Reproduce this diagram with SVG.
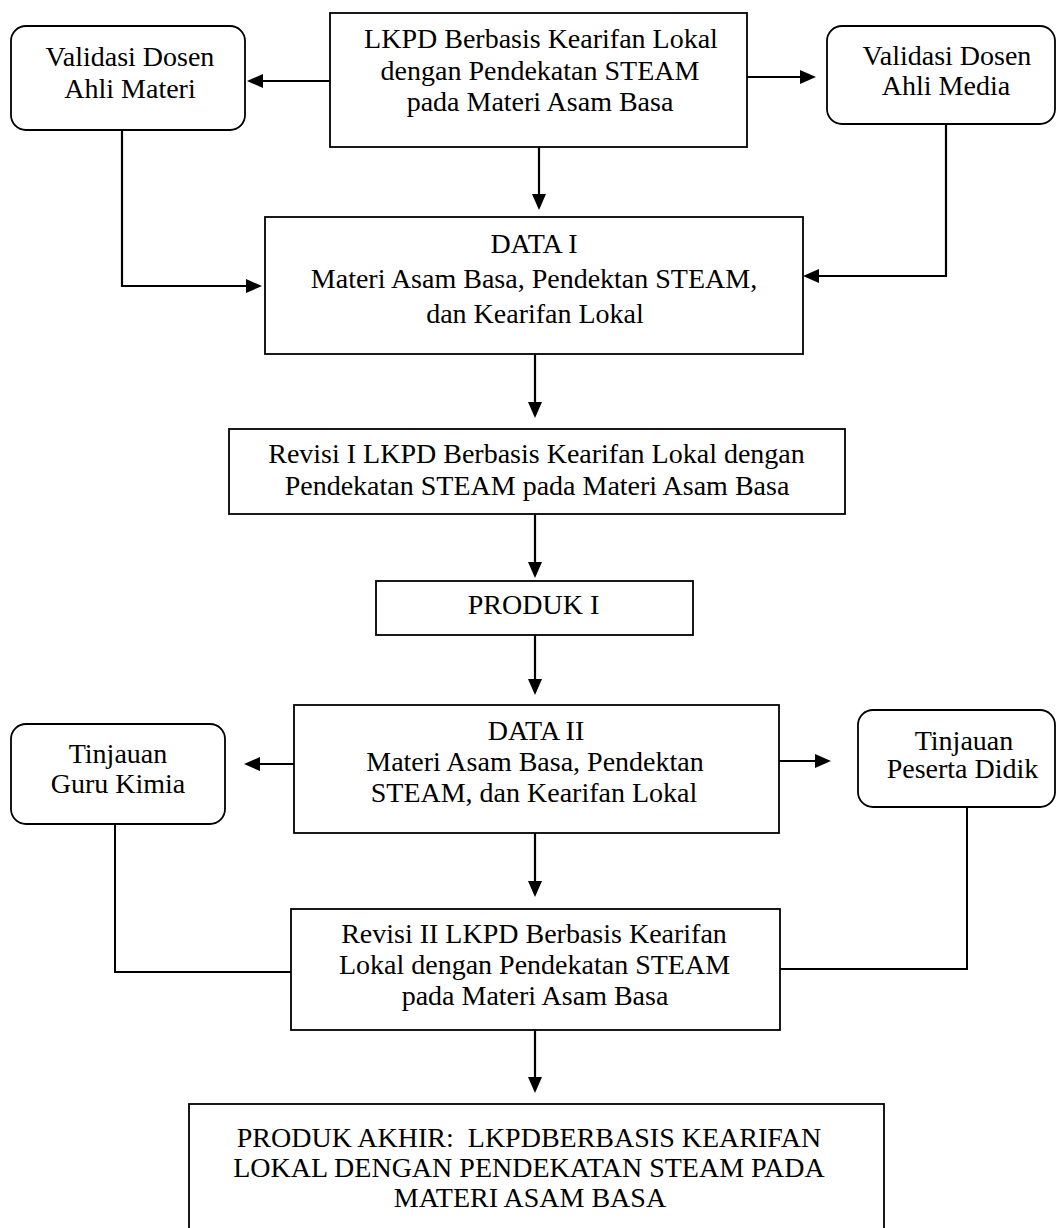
<svg xmlns="http://www.w3.org/2000/svg" width="1057" height="1228" viewBox="0 0 1057 1228">
<style>
  .box { fill: #ffffff; stroke: #000000; stroke-width: 1.8; }
  .t { font-family: "Liberation Serif", "Times New Roman", serif; font-size: 28px; fill: #000000; text-anchor: middle; }
  .c { fill: none; stroke: #000000; stroke-width: 2; }
  .a { fill: none; stroke: #000000; stroke-width: 2.2; marker-end: url(#arr); }
</style>
<defs>
  <marker id="arr" markerUnits="userSpaceOnUse" markerWidth="18" markerHeight="16" refX="13" refY="7" orient="auto">
    <path d="M0,0 L16,7 L0,14 Z" fill="#000000"/>
  </marker>
</defs>
<rect width="1057" height="1228" fill="#ffffff"/>

<g id="connectors">
  <line class="a" x1="330" y1="81" x2="250" y2="81"/>
  <line class="a" x1="747" y1="77" x2="813" y2="77"/>
  <line class="a" x1="539" y1="147" x2="539" y2="207"/>
  <path class="a" d="M122 130 V286 H259"/>
  <path class="a" d="M946 124 V276 H806"/>
  <line class="a" x1="535" y1="354" x2="535" y2="415"/>
  <line class="a" x1="535" y1="514" x2="535" y2="575"/>
  <line class="a" x1="535" y1="635" x2="535" y2="692"/>
  <line class="a" x1="294" y1="764" x2="247" y2="764"/>
  <line class="a" x1="779" y1="761" x2="828" y2="761"/>
  <line class="a" x1="535" y1="833" x2="535" y2="894"/>
  <path class="c" d="M115 824 V972 H291"/>
  <path class="c" d="M967 807 V969 H780"/>
  <line class="a" x1="535" y1="1030" x2="535" y2="1090"/>
</g>

<g id="lkpd">
  <rect class="box" x="330" y="13" width="417" height="134"/>
  <text class="t" x="541" y="48">LKPD Berbasis Kearifan Lokal</text>
  <text class="t" x="540" y="80">dengan Pendekatan STEAM</text>
  <text class="t" x="540" y="111">pada Materi Asam Basa</text>
</g>

<g id="validasi-materi">
  <rect class="box" x="11" y="26" width="234" height="104" rx="15" ry="15"/>
  <text class="t" x="130" y="66">Validasi Dosen</text>
  <text class="t" x="130" y="98">Ahli Materi</text>
</g>

<g id="validasi-media">
  <rect class="box" x="827" y="26" width="228" height="98" rx="15" ry="15"/>
  <text class="t" x="947" y="65">Validasi Dosen</text>
  <text class="t" x="946" y="95">Ahli Media</text>
</g>

<g id="data1">
  <rect class="box" x="265" y="217" width="538" height="137"/>
  <text class="t" x="534" y="253">DATA I</text>
  <text class="t" x="534" y="288">Materi Asam Basa, Pendektan STEAM,</text>
  <text class="t" x="535" y="323">dan Kearifan Lokal</text>
</g>

<g id="revisi1">
  <rect class="box" x="229" y="429" width="616" height="85"/>
  <text class="t" x="536.5" y="463">Revisi I LKPD Berbasis Kearifan Lokal dengan</text>
  <text class="t" x="537" y="495">Pendekatan STEAM pada Materi Asam Basa</text>
</g>

<g id="produk1">
  <rect class="box" x="376" y="581" width="317" height="54"/>
  <text class="t" x="533.5" y="614">PRODUK I</text>
</g>

<g id="data2">
  <rect class="box" x="294" y="705" width="485" height="128"/>
  <text class="t" x="536" y="740">DATA II</text>
  <text class="t" x="535" y="771">Materi Asam Basa, Pendektan</text>
  <text class="t" x="534" y="802">STEAM, dan Kearifan Lokal</text>
</g>

<g id="tinjauan-guru">
  <rect class="box" x="11" y="724" width="214" height="100" rx="15" ry="15"/>
  <text class="t" x="118" y="763">Tinjauan</text>
  <text class="t" x="118" y="793">Guru Kimia</text>
</g>

<g id="tinjauan-peserta">
  <rect class="box" x="858" y="710" width="197" height="97" rx="15" ry="15"/>
  <text class="t" x="964" y="750">Tinjauan</text>
  <text class="t" x="962.5" y="778">Peserta Didik</text>
</g>

<g id="revisi2">
  <rect class="box" x="291" y="909" width="489" height="121"/>
  <text class="t" x="534" y="943">Revisi II LKPD Berbasis Kearifan</text>
  <text class="t" x="534.5" y="974">Lokal dengan Pendekatan STEAM</text>
  <text class="t" x="535" y="1005">pada Materi Asam Basa</text>
</g>

<g id="produk-akhir">
  <rect class="box" x="189" y="1104" width="695" height="140"/>
  <text class="t" x="529" y="1147">PRODUK AKHIR:&#160; LKPDBERBASIS KEARIFAN</text>
  <text class="t" x="529" y="1177">LOKAL DENGAN PENDEKATAN STEAM PADA</text>
  <text class="t" x="530" y="1207">MATERI ASAM BASA</text>
</g>
</svg>
